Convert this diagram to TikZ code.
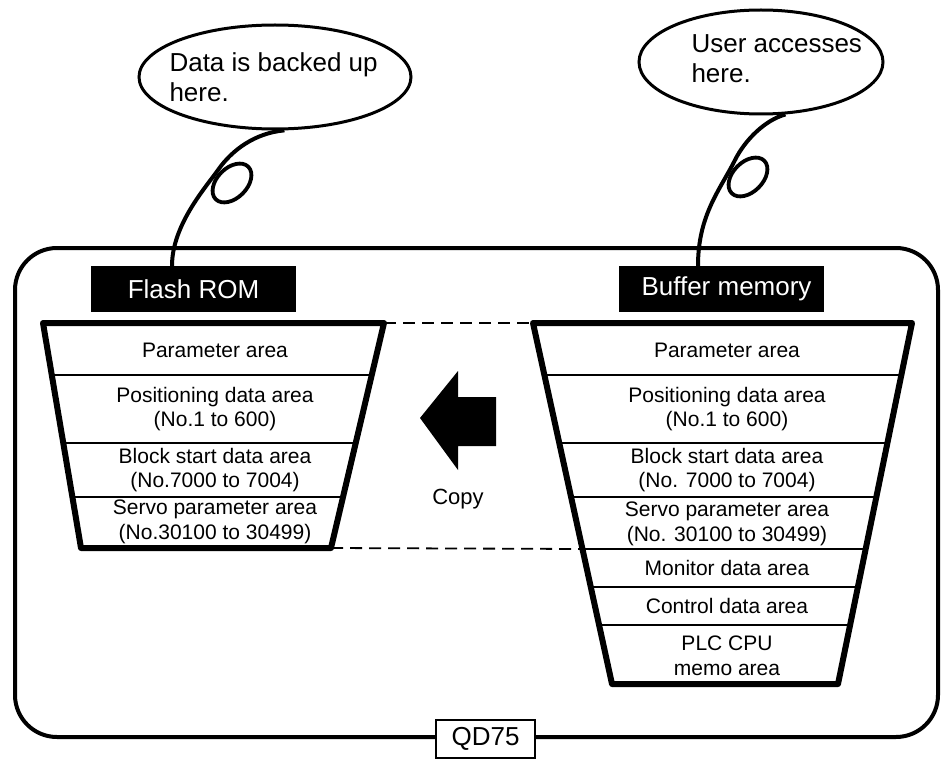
\documentclass[tikz,border=0pt]{standalone}
\usepackage{fontspec}
\setmainfont{Liberation Sans}
\usetikzlibrary{shapes.geometric,calc}
\begin{document}
\begin{tikzpicture}[x=1pt,y=-1pt,
  framestyle/.style={line width=4pt, rounded corners=42pt},
  tailstyle/.style={line width=4pt},
  loopstyle/.style={line width=3.8pt},
  bubblestyle/.style={draw, ellipse, line width=3pt, inner sep=0pt},
  bubbletext/.style={anchor=west, align=left, font=\fontsize{26}{30}\selectfont},
  memlabel/.style={fill=black, text=white, minimum width=205pt, minimum height=46pt, inner sep=0pt, font=\fontsize{26}{30}\selectfont},
  trapstyle/.style={line width=6pt, line join=round},
  divider/.style={line width=1.8pt},
  areatext/.style={align=center, inner sep=0pt, font=\fontsize{21}{24.5}\selectfont},
  dashstyle/.style={line width=1.8pt, dash pattern=on 12pt off 7pt},
]
\useasboundingbox (0,0) rectangle (945,765);

% outer frame
\draw[framestyle] (15,248) rectangle (938,737);

% trapezoid corners
\coordinate (LTL) at (43,323);
\coordinate (LTR) at (384,323);
\coordinate (LBR) at (331,548);
\coordinate (LBL) at (81,548);
\coordinate (RTL) at (533,323);
\coordinate (RTR) at (912,323);
\coordinate (RBR) at (838,684);
\coordinate (RBL) at (612,684);
\coordinate (REdge) at ($(RTL)!0.626!(RBL)$);

% dashed guide lines
\draw[dashstyle] (LTR) -- (RTL);
\draw[dashstyle] (LBR) -- (REdge);

% left trapezoid (Flash ROM)
\fill[white] (LTL) -- (LTR) -- (LBR) -- (LBL) -- cycle;
\begin{scope}
  \clip (LTL) -- (LTR) -- (LBR) -- (LBL) -- cycle;
  \foreach \yy in {375,443,497} \draw[divider] (30,\yy) -- (400,\yy);
\end{scope}
\draw[trapstyle] (LTL) -- (LTR) -- (LBR) -- (LBL) -- cycle;

\node[areatext] (lpar) at (215,350) {Parameter area};
\node[areatext] (lpos) at (215,409) {Positioning data area\\(No.1 to 600)};
\node[areatext] (lblk) at (215,470) {Block start data area\\(No.7000 to 7004)};
\node[areatext] (lsrv) at (215,522) {Servo parameter area\\(No.30100 to 30499)};

% right trapezoid (Buffer memory)
\fill[white] (RTL) -- (RTR) -- (RBR) -- (RBL) -- cycle;
\begin{scope}
  \clip (RTL) -- (RTR) -- (RBR) -- (RBL) -- cycle;
  \foreach \yy in {375,443,497,549,587,625} \draw[divider] (520,\yy) -- (930,\yy);
\end{scope}
\draw[trapstyle] (RTL) -- (RTR) -- (RBR) -- (RBL) -- cycle;

\node[areatext] (rpar) at (727,350) {Parameter area};
\node[areatext] (rpos) at (727,409) {Positioning data area\\(No.1 to 600)};
\node[areatext] (rblk) at (727,470) {Block start data area\\(No. 7000 to 7004)};
\node[areatext] (rsrv) at (727,524) {Servo parameter area\\(No. 30100 to 30499)};
\node[areatext] (rmon) at (727,568) {Monitor data area};
\node[areatext] (rctl) at (727,606) {Control data area};
\node[areatext] (rplc) at (727,656) {PLC CPU\\memo area};

% memory labels
\node[memlabel] (flash) at (193.5,289) {Flash ROM};
\node[memlabel] (buffer) at (721.5,289) {\hspace*{10pt}Buffer memory};

% bubbles
\node[bubblestyle, minimum width=272pt, minimum height=104pt] (bubL) at (275,77) {};
\node[bubbletext] (txtL) at (166,77) {Data is backed up\\here.};
\node[bubblestyle, minimum width=244pt, minimum height=104pt] (bubR) at (761,62) {};
\node[bubbletext] (txtR) at (688,59) {User accesses\\here.};

% tails
\draw[tailstyle] (bubL.-80) .. controls (255,133) and (232,150) .. (218,170)
  .. controls (206,187) and (172,225) .. ([xshift=-21.5pt]flash.north);
\draw[loopstyle, rotate around={45:(232,183)}] (232,183) ellipse [x radius=23pt, y radius=15pt];
\draw[tailstyle] (bubR.-65) .. controls (765,120) and (745,140) .. (735,160)
  .. controls (720,190) and (698,215) .. ([xshift=-23.5pt]buffer.north);
\draw[loopstyle, rotate around={45:(748,177)}] (748,177) ellipse [x radius=23pt, y radius=15pt];

% copy arrow
\fill (420,418) -- (458,371) -- (458,397) -- (496,397) -- (496,446) -- (458,446) -- (458,470) -- cycle;
\node[font=\fontsize{22}{26}\selectfont] (copy) at (458,499) {Copy};

% QD75 label
\node[draw, fill=white, line width=1.5pt, minimum width=99pt, minimum height=38pt, inner sep=0pt, font=\fontsize{26}{30}\selectfont] (qd) at (485.5,739) {QD75};
\end{tikzpicture}
\end{document}
